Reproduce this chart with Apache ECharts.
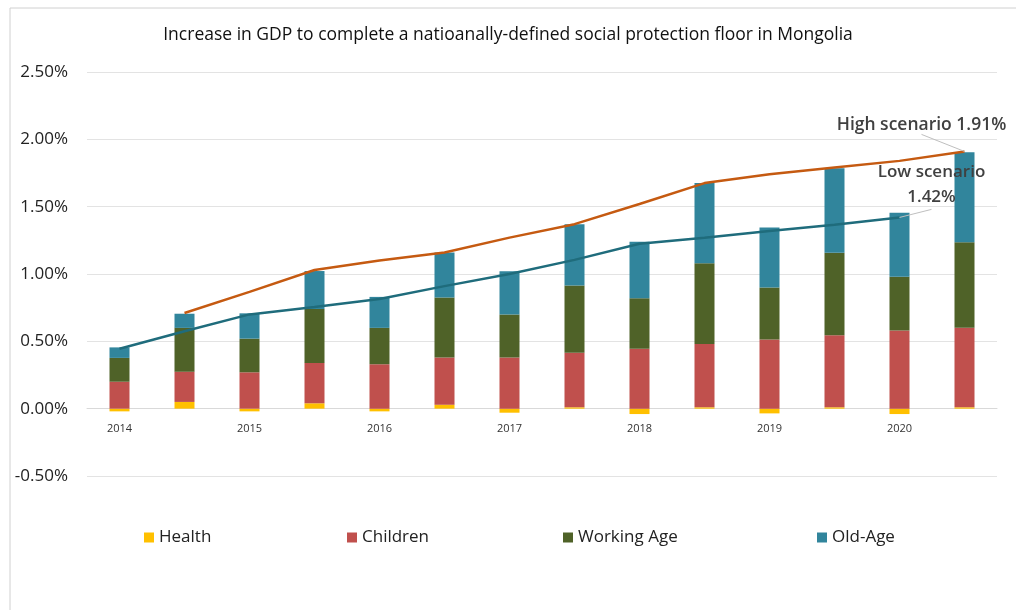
<!DOCTYPE html>
<html>
<head>
<meta charset="utf-8">
<script src="https://cdn.jsdelivr.net/npm/echarts@6/dist/echarts.min.js"></script>
<style>
html,body{margin:0;padding:0;background:#fff;}
#c{width:1016px;height:610px;}
</style>
</head>
<body>
<div id="c"></div>
<script>
var categories = ['2014','','2015','','2016','','2017','','2018','','2019','','2020',''];
var health     = [-0.02, 0.05, -0.02, 0.04, -0.02, 0.03, -0.03, 0.01, -0.04, 0.01, -0.035, 0.01, -0.04, 0.01];
var children   = [0.20, 0.225, 0.27, 0.30, 0.33, 0.35, 0.38, 0.405, 0.445, 0.47, 0.513, 0.535, 0.58, 0.59];
var workingAge = [0.177, 0.325, 0.25, 0.40, 0.27, 0.445, 0.32, 0.50, 0.375, 0.60, 0.387, 0.612, 0.40, 0.635];
var oldAge     = [0.078, 0.105, 0.188, 0.282, 0.23, 0.335, 0.32, 0.455, 0.42, 0.595, 0.445, 0.628, 0.475, 0.67];
var lowScenario  = [0.445, 0.575, 0.70, 0.755, 0.815, 0.91, 1.0, 1.105, 1.225, 1.27, 1.32, 1.365, 1.42, null];
var highScenario = [null, 0.71, 0.867, 1.03, 1.10, 1.16, 1.27, 1.37, 1.52, 1.675, 1.74, 1.79, 1.84, 1.91];
var yTicks = {min: -0.5, max: 2.5, interval: 0.5};

var FONT = 'Open Sans';
var chart = echarts.init(document.getElementById('c'));

function barSeries(name, data, color) {
  return {
    name: name, type: 'bar', stack: 'total', data: data, barWidth: 20,
    itemStyle: {color: color}, emphasis: {disabled: true}
  };
}

function legendAt(name, left) {
  return {
    data: [name], left: left, top: 524, itemWidth: 10, itemHeight: 10,
    icon: 'rect', itemGap: 0, selectedMode: false,
    textStyle: {fontFamily: FONT, fontSize: 17, color: '#222', padding: [0,0,0,0]}
  };
}

chart.setOption({
  animation: false,
  backgroundColor: '#fff',
  title: {
    text: 'Increase in GDP to complete a natioanally-defined social protection floor in Mongolia',
    left: 'center', top: 21,
    textStyle: {fontFamily: FONT, fontSize: 17.5, fontWeight: 'normal', color: '#111'}
  },
  legend: [
    legendAt('Health', 139),
    legendAt('Children', 342),
    legendAt('Working Age', 558),
    legendAt('Old-Age', 812)
  ],
  grid: {left: 87, right: 19, top: 72, bottom: 134},
  xAxis: {
    type: 'category', data: categories, boundaryGap: true,
    axisLine: {show: true, onZero: true, lineStyle: {color: '#d9d9d9'}},
    axisTick: {show: false},
    axisLabel: {interval: 0, margin: -53, fontFamily: FONT, fontSize: 11, color: '#333'}
  },
  yAxis: {
    type: 'value', min: yTicks.min, max: yTicks.max, interval: yTicks.interval,
    axisLine: {show: false}, axisTick: {show: false},
    splitLine: {lineStyle: {color: '#e3e3e3', width: 1}},
    axisLabel: {
      margin: 19, fontFamily: FONT, fontSize: 17, color: '#222',
      formatter: function (v) { return v.toFixed(2) + '%'; }
    }
  },
  series: [
    barSeries('Health', health, '#ffc000'),
    barSeries('Children', children, '#c0504d'),
    barSeries('Working Age', workingAge, '#4f6228'),
    barSeries('Old-Age', oldAge, '#31859c'),
    {
      name: 'Low scenario', type: 'line', data: lowScenario.map(function (v, i) {
        if (i === 12) {
          return {value: v, label: {show: true, formatter: 'Low scenario\n1.42%'}};
        }
        return v;
      }),
      symbol: 'circle', symbolSize: 0.1, showSymbol: true,
      itemStyle: {color: '#1f6c7c'},
      lineStyle: {color: '#1f6c7c', width: 2.5},
      label: {show: false, fontFamily: FONT, fontSize: 17, fontWeight: 600, color: '#404040', lineHeight: 25, align: 'center'},
      labelLine: {show: true, lineStyle: {color: '#bfbfbf', width: 1}},
      labelLayout: function (p) { return {dx: 32, dy: -3}; },
      emphasis: {disabled: true}, z: 5
    },
    {
      name: 'High scenario', type: 'line', data: highScenario.map(function (v, i) {
        if (i === 13) {
          return {value: v, label: {show: true, formatter: 'High scenario 1.91%'}};
        }
        return v;
      }),
      symbol: 'circle', symbolSize: 0.1, showSymbol: true,
      itemStyle: {color: '#c55a11'},
      lineStyle: {color: '#c55a11', width: 2.5},
      label: {show: false, fontFamily: FONT, fontSize: 17.5, fontWeight: 600, color: '#404040', align: 'center'},
      labelLine: {show: true, lineStyle: {color: '#bfbfbf', width: 1}},
      labelLayout: function (p) { return {dx: -43, dy: -12}; },
      emphasis: {disabled: true}, z: 6
    }
  ],
  graphic: [
    {type: 'line', shape: {x1: 10, y1: 8, x2: 1016, y2: 8}, style: {stroke: '#d0d0d0', lineWidth: 1}, silent: true},
    {type: 'line', shape: {x1: 10, y1: 8, x2: 10, y2: 610}, style: {stroke: '#d0d0d0', lineWidth: 1}, silent: true}
  ]
});
</script>
</body>
</html>
